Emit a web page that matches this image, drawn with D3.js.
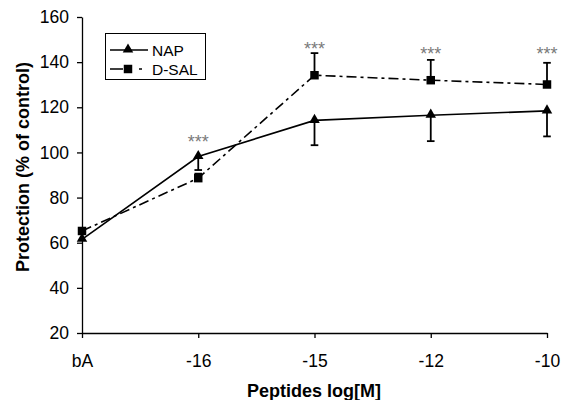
<!DOCTYPE html>
<html><head><meta charset="utf-8">
<script src="https://cdn.jsdelivr.net/npm/d3@7"></script>
<style>body{margin:0;background:#fff}svg{display:block}text{font-family:"Liberation Sans",Arial,sans-serif}</style>
</head><body>
<svg id="c" width="562" height="400"></svg>
<script>
const categories = ["bA", "-16", "-15", "-12", "-10"];
const napValues = [61.5, 98.2, 114.2, 116.5, 118.4];
const napErrDown = [0, 6, 11, 11.5, 11.3];
const dsalValues = [65.2, 88.6, 134.2, 132.0, 130.1];
const dsalErrUp = [0, 2, 9.8, 9, 9.6];
const starLevels = [null, 106.4, 147.7, 145.7, 145.7];
const yTicks = [20, 40, 60, 80, 100, 120, 140, 160];

const FONT = '"Liberation Sans",Arial,sans-serif';
const svg = d3.select("#c");
const x = d3.scalePoint().domain(categories).range([82, 547]);
const y = d3.scaleLinear().domain([20, 160]).range([333, 17]);

// axes
const xa = svg.append("g").attr("transform", "translate(0,333)")
  .call(d3.axisBottom(x).tickSize(5).tickPadding(17).tickSizeOuter(0));
const ya = svg.append("g").attr("transform", "translate(82,0)")
  .call(d3.axisLeft(y).tickValues(yTicks).tickSize(5).tickPadding(8).tickSizeOuter(0));
[xa, ya].forEach(g => {
  g.attr("font-size", 17.5).attr("font-family", FONT);
  g.selectAll("path.domain").attr("stroke", "#000").attr("stroke-width", 1.3);
  g.selectAll(".tick line").attr("stroke", "#000").attr("stroke-width", 1.3);
  g.selectAll("text").attr("fill", "#000");
});

// lines
const line = d3.line().x((d, i) => x(categories[i])).y(d => y(d));
svg.append("path").datum(dsalValues).attr("d", line).attr("fill", "none")
  .attr("stroke", "#000").attr("stroke-width", 1.6).attr("stroke-dasharray", "10,4,3,4");
svg.append("path").datum(napValues).attr("d", line).attr("fill", "none")
  .attr("stroke", "#000").attr("stroke-width", 1.6);

// error bars
function errBar(cx, v1, v2) {
  if (Math.abs(v1 - v2) < 0.01) return;
  svg.append("line").attr("x1", cx).attr("x2", cx).attr("y1", y(v1)).attr("y2", y(v2))
    .attr("stroke", "#000").attr("stroke-width", 1.8);
  svg.append("line").attr("x1", cx - 3.8).attr("x2", cx + 3.8).attr("y1", y(v2)).attr("y2", y(v2))
    .attr("stroke", "#000").attr("stroke-width", 1.8);
}
categories.forEach((c, i) => {
  errBar(x(c), napValues[i], napValues[i] - napErrDown[i]);
  errBar(x(c), dsalValues[i], dsalValues[i] + dsalErrUp[i]);
});

// markers
const tri = d3.symbol().type(d3.symbolTriangle).size(48);
const sq = d3.symbol().type(d3.symbolSquare).size(72);
svg.append("g").selectAll("path").data(dsalValues).join("path")
  .attr("d", sq).attr("transform", (d, i) => `translate(${x(categories[i])},${y(d)})`).attr("fill", "#000");
svg.append("g").selectAll("path").data(napValues).join("path")
  .attr("d", tri).attr("transform", (d, i) => `translate(${x(categories[i])},${y(d) - 0.5})`).attr("fill", "#000");

// stars
const starFs = 18;
svg.append("g").selectAll("text").data(starLevels.map((v, i) => [v, i]).filter(d => d[0] !== null)).join("text")
  .attr("x", d => x(categories[d[1]])).attr("y", d => y(d[0]) + 0.57 * starFs)
  .attr("text-anchor", "middle").attr("font-size", starFs).attr("fill", "#7a7a7a").text("***");

// legend
const lg = svg.append("g");
lg.append("rect").attr("x", 105.5).attr("y", 33.5).attr("width", 100).attr("height", 46)
  .attr("fill", "#fff").attr("stroke", "#000").attr("stroke-width", 1);
lg.append("line").attr("x1", 110).attr("x2", 148).attr("y1", 50).attr("y2", 50)
  .attr("stroke", "#000").attr("stroke-width", 1.6);
lg.append("path").attr("d", tri).attr("transform", "translate(128,49.5)").attr("fill", "#000");
lg.append("line").attr("x1", 110).attr("x2", 146).attr("y1", 69).attr("y2", 69)
  .attr("stroke", "#000").attr("stroke-width", 1.6).attr("stroke-dasharray", "13,16,3,20");
lg.append("path").attr("d", sq).attr("transform", "translate(128,69)").attr("fill", "#000");
lg.append("text").attr("x", 152).attr("y", 55.5).attr("font-size", 15.5).text("NAP");
lg.append("text").attr("x", 152).attr("y", 74.5).attr("font-size", 15.5).text("D-SAL");

// titles
svg.append("text").attr("x", 314).attr("y", 397).attr("text-anchor", "middle")
  .attr("font-size", 18).attr("font-weight", "bold").text("Peptides log[M]");
svg.append("text").attr("transform", "translate(29,167) rotate(-90)").attr("text-anchor", "middle")
  .attr("font-size", 18).attr("font-weight", "bold").text("Protection (% of control)");
</script>
</body></html>
